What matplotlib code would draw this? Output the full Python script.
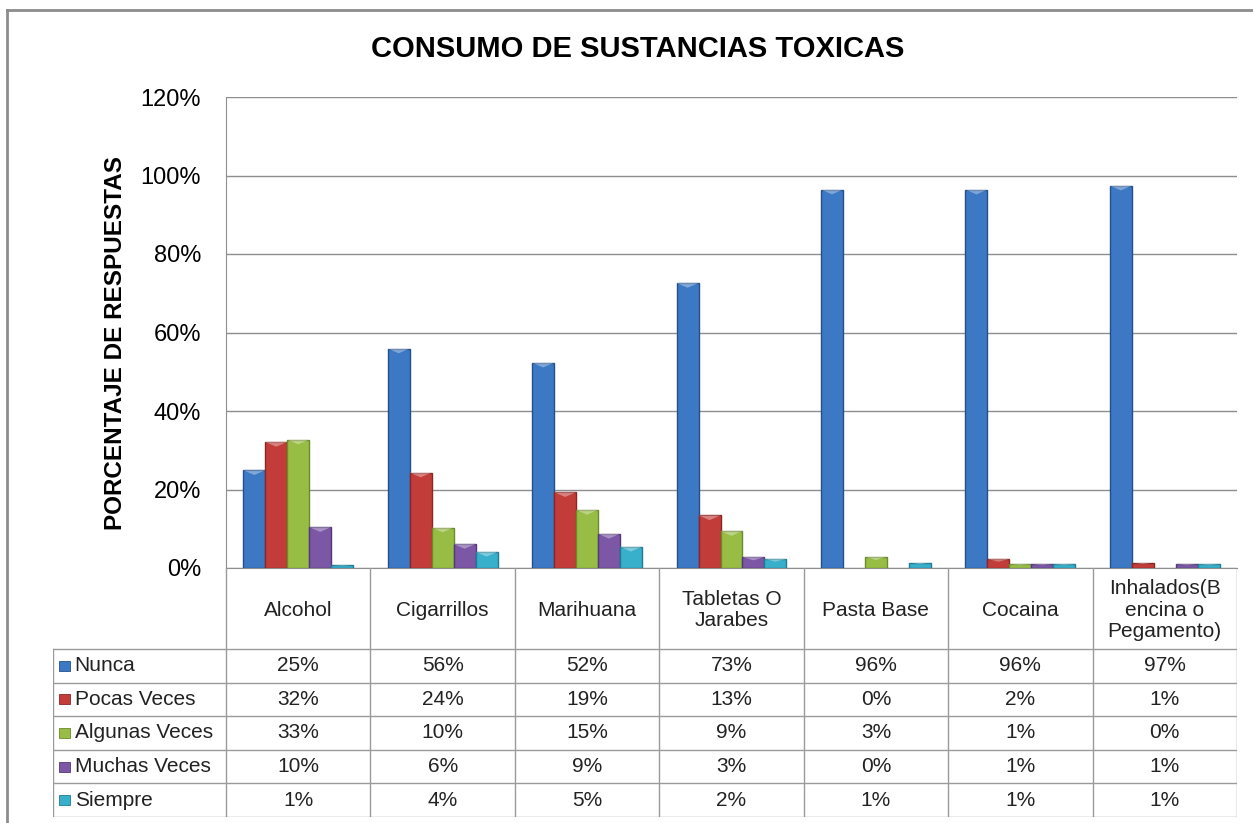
import numpy as np
import matplotlib
matplotlib.use("Agg")
import matplotlib.pyplot as plt
from matplotlib.lines import Line2D
from matplotlib.patches import Rectangle

plt.rcParams['font.family'] = ['Liberation Sans', 'DejaVu Sans']

categories = ['Alcohol', 'Cigarrillos', 'Marihuana', 'Tabletas O\nJarabes',
              'Pasta Base', 'Cocaina', 'Inhalados(B\nencina o\nPegamento)']
series = ['Nunca', 'Pocas Veces', 'Algunas Veces', 'Muchas Veces', 'Siempre']

nunca = [24.9, 55.9, 52.3, 72.6, 96.4, 96.4, 97.4]
pocas = [32.1, 24.3, 19.3, 13.4, 0.0, 2.3, 1.4]
algunas = [32.7, 10.3, 14.8, 9.4, 2.9, 1.0, 0.0]
muchas = [10.4, 6.1, 8.7, 2.8, 0.0, 1.0, 1.0]
siempre = [0.8, 4.1, 5.4, 2.3, 1.4, 1.0, 1.0]
values = [nunca, pocas, algunas, muchas, siempre]

colors = ['#3c78c3', '#c23d3a', '#98bd45', '#7b57a6', '#38b0cc']
edges = ['#23508a', '#8a2523', '#6b8a2a', '#523877', '#1f7c93']

W, H = 1253, 823
fig = plt.figure(figsize=(W / 100, H / 100), dpi=100)

# outer chart border (cut off at right and bottom)
fig.add_artist(Line2D([7 / W, 1.0], [1 - 10 / H, 1 - 10 / H], color='#8c8c8c', lw=2))
fig.add_artist(Line2D([7 / W, 7 / W], [0.0, 1 - 10 / H], color='#8c8c8c', lw=2))

grid_c = '#8e8e8e'

# bar area
ax = fig.add_axes([226 / W, 1 - 568 / H, 1011 / W, 471 / H])
x = np.arange(len(categories))
bw = 0.152
for i, (vals, c, ec) in enumerate(zip(values, colors, edges)):
    vals = np.array(vals)
    lws = np.where(vals > 0, 1.0, 0.0)
    ax.bar(x + (i - 2) * bw, vals, bw, color=c, edgecolor=ec, linewidth=lws, zorder=3)
    # lighter bevel at the top of each bar
    for xi, v in zip(x + (i - 2) * bw, vals):
        if v > 0:
            h = min(1.2, v * 0.3)
            ax.fill([xi - bw / 2, xi + bw / 2, xi], [v, v, v - h],
                    color='white', alpha=0.35, lw=0, zorder=4)

ax.set_xlim(-0.5, 6.5)
ax.set_ylim(0, 120)
ax.set_yticks(np.arange(0, 121, 20))
ax.set_yticklabels([f'{t}%' for t in range(0, 121, 20)], fontsize=17)
ax.set_xticks([])
ax.tick_params(axis='y', length=0, pad=18)
ax.grid(axis='y', color=grid_c, lw=1, zorder=0)
for s in ['top', 'right']:
    ax.spines[s].set_visible(False)
for s in ['left', 'bottom']:
    ax.spines[s].set_color(grid_c)
ax.set_ylabel('PORCENTAJE DE RESPUESTAS', fontsize=17.5, fontweight='bold')
ax.yaxis.set_label_coords(-0.098, 0.478)

fig.text(0.509, 1 - 49 / H, 'CONSUMO DE SUSTANCIAS TOXICAS', fontsize=21,
         fontweight='bold', ha='center', va='center')

# data table
left_units = 173 / 144.43
tax = fig.add_axes([53 / W, 1 - 817 / H, 1184 / W, 249 / H])
x0 = -0.5 - left_units
top = 249 / 33.6
tax.set_xlim(x0, 6.5)
tax.set_ylim(0, top)
tax.axis('off')

lc = '#9a9a9a'
for k in range(6):
    tax.plot([x0, 6.5], [k, k], color=lc, lw=1)
tax.plot([x0, x0], [0, 5], color=lc, lw=1)
for k in range(8):
    tax.plot([k - 0.5, k - 0.5], [0, top], color=lc, lw=1)

fs = 15
for j, cat in enumerate(categories):
    tax.text(j, (5 + top) / 2 - 0.05, cat, ha='center', va='center', fontsize=fs,
             linespacing=1.15, color='#222222')

for i, (name, vals, c, ec) in enumerate(zip(series, values, colors, edges)):
    yc = 4.5 - i
    tax.add_patch(Rectangle((x0 + 0.045, yc - 0.15), 0.075, 0.3,
                            facecolor=c, edgecolor=ec, lw=0.6))
    tax.text(x0 + 0.15, yc, name, ha='left', va='center', fontsize=fs, color='#222222')
    for j, v in enumerate(vals):
        tax.text(j, yc, f'{v:.0f}%', ha='center', va='center', fontsize=fs, color='#222222')

fig.savefig('out.png', dpi=100)
